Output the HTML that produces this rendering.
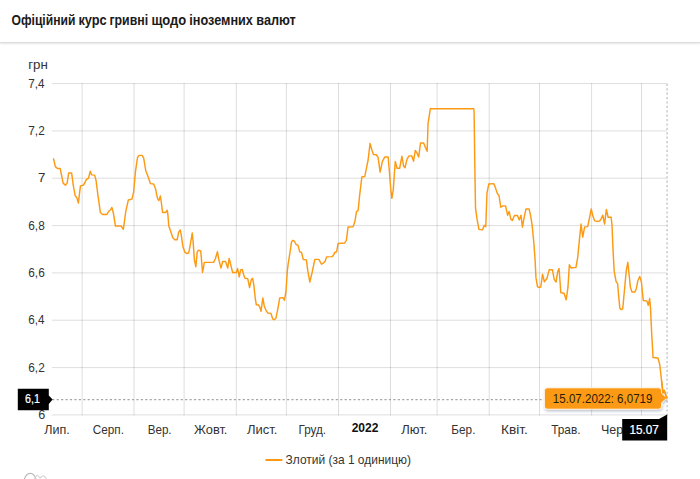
<!DOCTYPE html>
<html lang="uk"><head><meta charset="utf-8"><title>Офіційний курс гривні щодо іноземних валют</title>
<style>
html,body{margin:0;padding:0;background:#fff;}
body{width:700px;height:479px;overflow:hidden;position:relative;font-family:"Liberation Sans",sans-serif;}
.hdr{position:absolute;left:0;top:0;width:700px;height:42px;background:#fff;border-bottom:1px solid #dcdcdc;box-shadow:0 1px 2px rgba(0,0,0,0.10);}
svg{position:absolute;left:0;top:0;}
.g{stroke:#000;stroke-opacity:0.135;stroke-width:1;}
.t{font-family:"Liberation Sans",sans-serif;fill:#333;}
.b{font-weight:700;fill:#111;}
.h{font-weight:700;fill:#1a1a1a;}
.w{fill:#fff;stroke:#fff;stroke-width:0.25px;}
.k{fill:#2a1c02;}
</style></head><body>
<div class="hdr"></div>
<svg width="700" height="479" viewBox="0 0 700 479">
<defs><filter id="sh" x="-10%" y="-40%" width="120%" height="200%"><feDropShadow dx="0.5" dy="1.5" stdDeviation="1.2" flood-color="#203050" flood-opacity="0.3"/></filter></defs>
<line x1="82.1" y1="83.1" x2="82.1" y2="415.4" class="g"/>
<line x1="134.0" y1="83.1" x2="134.0" y2="415.4" class="g"/>
<line x1="184.1" y1="83.1" x2="184.1" y2="415.4" class="g"/>
<line x1="236.3" y1="83.1" x2="236.3" y2="415.4" class="g"/>
<line x1="286.4" y1="83.1" x2="286.4" y2="415.4" class="g"/>
<line x1="338.5" y1="83.1" x2="338.5" y2="415.4" class="g"/>
<line x1="390.5" y1="83.1" x2="390.5" y2="415.4" class="g"/>
<line x1="437.1" y1="83.1" x2="437.1" y2="415.4" class="g"/>
<line x1="489.2" y1="83.1" x2="489.2" y2="415.4" class="g"/>
<line x1="539.5" y1="83.1" x2="539.5" y2="415.4" class="g"/>
<line x1="591.6" y1="83.1" x2="591.6" y2="415.4" class="g"/>
<line x1="641.5" y1="83.1" x2="641.5" y2="415.4" class="g"/>
<line x1="51.8" y1="83.6" x2="667" y2="83.6" class="g"/>
<line x1="51.8" y1="130.9" x2="667" y2="130.9" class="g"/>
<line x1="51.8" y1="178.2" x2="667" y2="178.2" class="g"/>
<line x1="51.8" y1="225.6" x2="667" y2="225.6" class="g"/>
<line x1="51.8" y1="272.9" x2="667" y2="272.9" class="g"/>
<line x1="51.8" y1="320.2" x2="667" y2="320.2" class="g"/>
<line x1="51.8" y1="367.6" x2="667" y2="367.6" class="g"/>
<line x1="51.8" y1="414.9" x2="667" y2="414.9" class="g"/>
<line x1="52.2" y1="399.5" x2="667" y2="399.5" stroke="#a6a6a6" stroke-width="1.25" stroke-dasharray="2.2,2.23"/>
<line x1="667.1" y1="83.8" x2="667.1" y2="416" stroke="#d3d3d3" stroke-width="1.8" stroke-dasharray="2.2,2.2"/>
<text transform="translate(28.30,87.6) scale(0.9563,1)" class="t" font-size="12.2">7,4</text>
<text transform="translate(28.29,134.9) scale(0.9714,1)" class="t" font-size="12.2">7,2</text>
<text transform="translate(37.92,182.2) scale(1.0909,1)" class="t" font-size="12.2">7</text>
<text transform="translate(28.29,229.6) scale(0.9714,1)" class="t" font-size="12.2">6,8</text>
<text transform="translate(28.29,276.9) scale(0.9714,1)" class="t" font-size="12.2">6,6</text>
<text transform="translate(28.30,324.2) scale(0.9563,1)" class="t" font-size="12.2">6,4</text>
<text transform="translate(28.29,371.6) scale(0.9714,1)" class="t" font-size="12.2">6,2</text>
<text transform="translate(38.16,418.9) scale(1.0311,1)" class="t" font-size="12.2">6</text>
<text transform="translate(44.17,433.7) scale(1.0073,1)" class="t" font-size="12.5">Лип.</text>
<text transform="translate(92.81,433.7) scale(0.9402,1)" class="t" font-size="12.5">Серп.</text>
<text transform="translate(147.67,433.7) scale(0.9312,1)" class="t" font-size="12.5">Вер.</text>
<text transform="translate(194.04,433.7) scale(1.0281,1)" class="t" font-size="12.5">Жовт.</text>
<text transform="translate(246.97,433.7) scale(1.0429,1)" class="t" font-size="12.5">Лист.</text>
<text transform="translate(298.46,433.7) scale(0.9388,1)" class="t" font-size="12.5">Груд.</text>
<text transform="translate(401.27,433.7) scale(1.0429,1)" class="t" font-size="12.5">Лют.</text>
<text transform="translate(451.36,433.7) scale(0.9412,1)" class="t" font-size="12.5">Бер.</text>
<text transform="translate(500.90,433.7) scale(1.0994,1)" class="t" font-size="12.5">Квіт.</text>
<text transform="translate(551.16,433.7) scale(0.9492,1)" class="t" font-size="12.5">Трав.</text>
<text transform="translate(601.00,433.7) scale(1.0017,1)" class="t" font-size="12.5">Черв.</text>
<text transform="translate(351.63,432.2) scale(0.9905,1)" class="t b" font-size="12.2">2022</text>
<text transform="translate(28.27,68.8) scale(1.0647,1)" class="t" font-size="12.5">грн</text>
<text transform="translate(285.62,463.5) scale(0.9571,1)" class="t" font-size="12.5">Злотий (за 1 одиницю)</text>
<text transform="translate(11.46,24.8) scale(0.8678,1)" class="t h" font-size="14">Офіційний</text>
<text transform="translate(78.38,24.8) scale(0.9153,1)" class="t h" font-size="14">курс</text>
<text transform="translate(109.42,24.8) scale(0.8810,1)" class="t h" font-size="14">гривні</text>
<text transform="translate(151.57,24.8) scale(0.9254,1)" class="t h" font-size="14">щодо</text>
<text transform="translate(189.29,24.8) scale(0.9056,1)" class="t h" font-size="14">іноземних</text>
<text transform="translate(256.29,24.8) scale(0.9092,1)" class="t h" font-size="14">валют</text>
<path d="M53.2,158.5 L55.0,166.3 L57.1,168.1 L59.8,168.1 L61.0,173.9 L62.8,182.8 L65.1,184.9 L66.8,182.8 L68.3,172.7 L71.3,172.7 L73.0,185.5 L74.8,195.2 L76.6,197.5 L78.0,202.7 L80.1,185.5 L83.3,184.6 L86.3,178.7 L88.1,178.0 L89.9,170.9 L91.3,174.5 L94.3,174.8 L95.7,180.1 L97.5,194.3 L100.0,212.1 L102.3,214.2 L106.4,214.2 L108.2,211.2 L110.3,209.4 L111.5,207.1 L112.9,212.1 L115.1,225.7 L120.9,225.7 L123.0,228.9 L125.4,211.2 L128.0,199.6 L131.6,198.8 L133.3,191.7 L135.1,171.3 L137.2,157.1 L138.7,155.0 L141.8,155.0 L143.4,158.0 L145.4,170.4 L147.5,175.7 L150.1,183.3 L153.3,183.7 L155.1,188.1 L157.2,198.2 L158.6,200.2 L160.0,195.7 L160.9,201.4 L162.2,212.1 L165.4,212.1 L166.8,209.9 L167.5,213.8 L168.4,225.4 L170.6,231.8 L172.4,237.2 L174.2,239.3 L176.8,239.3 L178.3,231.8 L179.9,229.7 L180.9,234.5 L182.5,246.0 L184.5,251.9 L186.2,253.1 L188.4,252.6 L189.8,245.1 L191.9,232.7 L192.8,241.6 L194.0,259.3 L195.5,266.4 L196.9,251.3 L198.1,249.9 L200.4,250.5 L201.3,261.1 L202.2,272.1 L204.0,262.0 L213.2,262.0 L215.0,258.4 L217.1,251.3 L218.5,259.3 L220.6,267.7 L222.4,261.1 L225.2,261.1 L227.4,267.7 L228.8,258.1 L230.4,264.6 L232.3,272.1 L235.9,272.1 L237.3,268.2 L238.9,276.5 L240.3,269.6 L241.9,269.1 L243.3,274.4 L244.6,277.9 L247.4,278.3 L249.2,287.3 L250.8,279.7 L252.2,277.9 L253.4,284.1 L255.1,299.4 L256.0,304.4 L258.3,304.7 L259.5,307.0 L260.7,310.9 L262.5,297.6 L263.9,305.6 L265.4,309.5 L267.5,312.7 L270.5,313.0 L272.3,318.5 L273.7,319.4 L275.5,318.0 L277.2,310.0 L279.4,297.6 L282.6,297.3 L284.0,299.9 L285.6,291.4 L287.0,270.1 L287.9,263.0 L289.6,252.4 L291.1,241.8 L292.3,240.0 L294.1,240.9 L295.9,244.4 L297.6,244.8 L299.4,251.5 L301.2,252.1 L302.9,259.1 L306.0,259.5 L307.4,270.1 L309.5,281.7 L311.8,271.9 L314.5,259.0 L318.5,259.0 L321.2,263.9 L323.3,262.5 L324.8,260.9 L326.3,256.5 L331.8,256.3 L333.4,254.5 L334.3,252.1 L336.3,251.4 L337.7,243.2 L344.2,242.7 L346.0,240.0 L347.7,226.7 L352.7,226.4 L354.5,221.4 L356.2,211.1 L357.8,210.2 L359.3,194.8 L361.5,176.7 L364.4,176.2 L366.0,168.3 L367.8,159.4 L369.7,143.1 L371.3,148.8 L373.1,154.1 L375.9,154.4 L377.7,157.1 L379.8,171.8 L382.0,161.2 L384.3,156.7 L387.8,156.7 L389.0,170.9 L390.3,187.7 L391.5,198.0 L392.9,189.5 L394.9,161.2 L396.7,167.9 L399.3,167.9 L401.6,155.9 L403.2,165.6 L404.6,167.4 L406.8,158.5 L408.7,155.5 L411.4,155.5 L413.2,160.8 L414.9,150.2 L416.5,152.3 L418.3,156.7 L420.2,142.6 L423.3,142.6 L425.0,147.0 L426.8,150.9 L427.7,123.0 L430.0,108.3 L473.3,108.3 L473.7,110.6 L474.9,193.0 L475.2,208.1 L476.8,219.6 L478.6,229.0 L482.2,229.4 L483.9,225.0 L485.4,226.4 L486.6,193.0 L488.4,183.7 L493.3,183.3 L494.9,186.8 L496.9,193.0 L498.7,195.4 L500.4,206.9 L502.6,205.5 L505.2,205.5 L507.3,214.9 L508.8,211.1 L510.5,218.8 L512.0,220.2 L514.1,215.2 L517.1,215.2 L518.9,219.6 L520.6,214.9 L522.1,226.7 L523.8,217.0 L525.6,208.7 L528.8,208.7 L530.4,216.1 L531.8,225.0 L533.5,242.7 L534.8,260.5 L535.6,277.3 L537.1,286.2 L538.3,287.1 L540.4,286.7 L542.2,273.8 L544.0,281.4 L546.6,278.2 L548.9,269.3 L552.0,269.3 L553.9,279.1 L555.7,281.7 L557.4,271.1 L558.7,268.1 L560.5,292.4 L563.7,292.9 L565.8,299.5 L567.6,287.1 L569.0,264.4 L570.7,267.6 L575.6,267.0 L577.4,256.7 L579.2,238.0 L580.7,223.7 L582.4,236.8 L584.3,226.5 L587.3,226.3 L589.0,218.4 L590.9,208.6 L592.5,215.7 L594.3,220.5 L596.6,221.0 L599.3,220.7 L601.0,218.0 L602.4,214.8 L604.2,223.7 L606.0,209.1 L607.8,216.9 L610.8,216.9 L611.7,225.5 L612.5,246.0 L613.8,270.5 L615.7,281.0 L617.3,283.6 L618.5,297.5 L619.5,308.0 L620.8,309.3 L622.4,308.4 L623.7,294.2 L626.0,269.5 L627.5,262.0 L628.8,274.9 L630.1,287.2 L631.6,291.7 L634.6,291.7 L636.0,288.1 L637.6,280.1 L639.4,276.2 L641.1,281.9 L642.9,300.2 L646.5,300.5 L647.9,305.0 L649.3,298.2 L650.2,308.5 L651.4,334.5 L652.7,357.2 L657.6,357.6 L659.4,364.3 L661.2,380.3 L662.6,392.6 L663.9,390.0 L666.3,397.6" transform="translate(0.35,0.35)" fill="none" stroke="#fc9a14" stroke-width="1.45" stroke-linejoin="round" stroke-linecap="round"/>
<path d="M17.8,388.8 H48.8 V395.4 L52.6,399.5 L48.8,403.9 V410.2 H17.8 Z" fill="#000"/>
<path d="M622.2,418.9 H659 L667.2,414.5 V440.6 H622.2 Z" fill="#000"/>
<g filter="url(#sh)"><path d="M547.4,387.8 H658.6 a3,3 0 0 1 3,3 V393.2 L666.9,398.0 L661.6,402.8 V406.2 a3,3 0 0 1 -3,3 H547.4 a3,3 0 0 1 -3,-3 V390.8 a3,3 0 0 1 3,-3 Z" fill="#fc9a14" stroke="#fff" stroke-opacity="0.85" stroke-width="1"/></g>
<path d="M661.2,380.3 L662.6,392.6 L663.9,390.0 L666.3,397.6" transform="translate(0.35,0.35)" fill="none" stroke="#fc9a14" stroke-width="1.45" stroke-linejoin="round" stroke-linecap="round"/>
<text transform="translate(25.05,403.2) scale(0.8762,1)" class="t w" font-size="12.2">6,1</text>
<text transform="translate(629.56,433.6) scale(0.9586,1)" class="t w" font-size="12.2">15.07</text>
<text transform="translate(552.87,402.9) scale(0.9475,1)" class="t k" font-size="12.2">15.07.2022: 6,0719</text>
<line x1="265.4" y1="460" x2="282.4" y2="460" stroke="#fc9a14" stroke-width="2"/>
<path d="M24.2,479.5 C25.4,475.8 27.8,473.4 30.4,473.4 C33.1,473.4 35,476.2 36.1,479.5" fill="none" stroke="#b9b9b9" stroke-width="1.15"/>
<path d="M34.6,479.5 C35.3,477 36.2,475.5 37.3,475.5 C38.6,475.5 39.2,477.3 40.1,478.1 C41,477.2 41.9,475.7 43.2,475.7 C44.6,475.7 45.6,477.4 46.5,479.5" fill="none" stroke="#d2d2d2" stroke-width="1.05"/>
</svg>
</body></html>
